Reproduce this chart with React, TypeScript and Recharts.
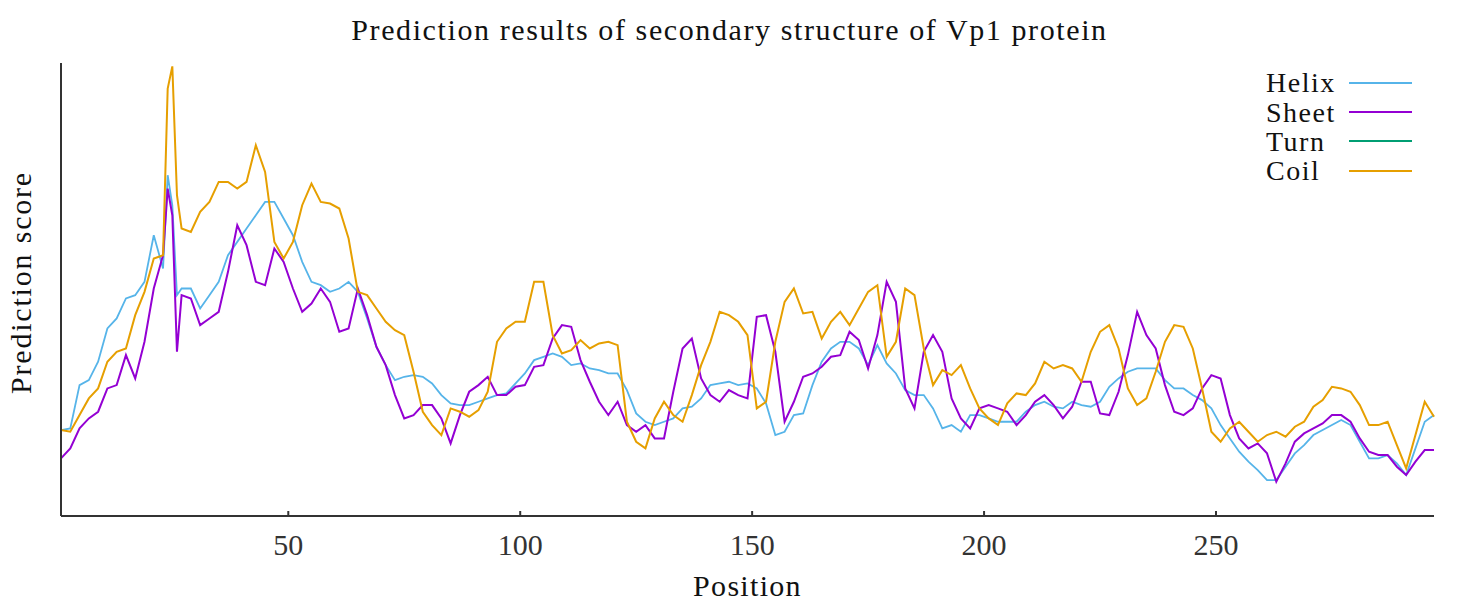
import React from "react";
import { LineChart, Line, XAxis, YAxis, Legend, Label } from "recharts";

// residue positions (denser around the spike near 24-26)
const positions = [
  1, 3, 5, 7, 9, 11, 13, 15, 17, 19, 21, 23, 24, 25, 26, 27, 29, 31, 33, 35, 37, 39, 41, 43, 45, 47, 49,
  51, 53, 55, 57, 59, 61, 63, 65, 67, 69, 71, 73, 75, 77, 79, 81, 83, 85, 87, 89, 91, 93, 95, 97, 99,
  101, 103, 105, 107, 109, 111, 113, 115, 117, 119, 121, 123, 125, 127, 129, 131, 133, 135, 137, 139, 141, 143, 145, 147, 149,
  151, 153, 155, 157, 159, 161, 163, 165, 167, 169, 171, 173, 175, 177, 179, 181, 183, 185, 187, 189, 191, 193, 195, 197, 199,
  201, 203, 205, 207, 209, 211, 213, 215, 217, 219, 221, 223, 225, 227, 229, 231, 233, 235, 237, 239, 241, 243, 245, 247, 249,
  251, 253, 255, 257, 259, 261, 263, 265, 267, 269, 271, 273, 275, 277, 279, 281, 283, 285, 287, 289, 291, 293, 295, 297,
];

const helix = [
  0.258, 0.263, 0.393, 0.408, 0.463, 0.563, 0.593, 0.653, 0.663, 0.703, 0.843, 0.743, 1.023, 0.933, 0.663, 0.683, 0.683, 0.623, 0.663, 0.703, 0.783, 0.823, 0.863, 0.903, 0.943, 0.943, 0.893,
  0.843, 0.763, 0.703, 0.693, 0.673, 0.683, 0.703, 0.673, 0.593, 0.508, 0.453, 0.408, 0.418, 0.423, 0.418, 0.398, 0.363, 0.338, 0.333, 0.333, 0.343, 0.353, 0.363, 0.368, 0.398,
  0.428, 0.468, 0.478, 0.488, 0.478, 0.453, 0.458, 0.443, 0.438, 0.428, 0.428, 0.378, 0.308, 0.283, 0.273, 0.283, 0.293, 0.323, 0.328, 0.353, 0.393, 0.398, 0.403, 0.393, 0.398,
  0.383, 0.338, 0.243, 0.253, 0.303, 0.308, 0.393, 0.463, 0.503, 0.523, 0.523, 0.503, 0.453, 0.513, 0.458, 0.428, 0.378, 0.363, 0.363, 0.323, 0.263, 0.273, 0.253, 0.303, 0.303,
  0.293, 0.283, 0.283, 0.283, 0.313, 0.333, 0.343, 0.328, 0.323, 0.343, 0.333, 0.328, 0.343, 0.388, 0.413, 0.433, 0.443, 0.443, 0.443, 0.408, 0.383, 0.383, 0.363, 0.348, 0.323,
  0.273, 0.233, 0.193, 0.163, 0.138, 0.108, 0.108, 0.148, 0.188, 0.213, 0.243, 0.258, 0.273, 0.288, 0.273, 0.223, 0.173, 0.173, 0.183, 0.158, 0.123, 0.203, 0.283, 0.303,
];

const sheet = [
  0.173, 0.203, 0.263, 0.293, 0.313, 0.383, 0.393, 0.483, 0.413, 0.523, 0.683, 0.783, 0.983, 0.903, 0.493, 0.663, 0.653, 0.573, 0.593, 0.613, 0.733, 0.873, 0.813, 0.703, 0.693, 0.803, 0.763,
  0.683, 0.613, 0.638, 0.683, 0.643, 0.553, 0.563, 0.683, 0.603, 0.508, 0.453, 0.363, 0.293, 0.303, 0.333, 0.333, 0.293, 0.218, 0.303, 0.373, 0.393, 0.418, 0.363, 0.363, 0.388,
  0.393, 0.448, 0.453, 0.533, 0.573, 0.568, 0.468, 0.403, 0.343, 0.303, 0.343, 0.273, 0.253, 0.273, 0.233, 0.233, 0.373, 0.503, 0.533, 0.413, 0.363, 0.343, 0.378, 0.363, 0.353,
  0.598, 0.603, 0.493, 0.283, 0.343, 0.418, 0.428, 0.448, 0.478, 0.483, 0.553, 0.528, 0.443, 0.543, 0.703, 0.643, 0.383, 0.323, 0.493, 0.543, 0.493, 0.353, 0.293, 0.263, 0.323,
  0.333, 0.323, 0.313, 0.273, 0.303, 0.343, 0.363, 0.333, 0.293, 0.328, 0.403, 0.403, 0.308, 0.303, 0.373, 0.483, 0.613, 0.543, 0.503, 0.393, 0.313, 0.303, 0.323, 0.383, 0.423,
  0.413, 0.303, 0.233, 0.203, 0.218, 0.188, 0.103, 0.158, 0.223, 0.248, 0.263, 0.278, 0.303, 0.303, 0.283, 0.233, 0.193, 0.183, 0.183, 0.148, 0.123, 0.163, 0.198, 0.198,
];

// turn is listed in the legend but not visible in the plot
const turn: (number | null)[] = positions.map(() => null);

const coil = [
  0.258, 0.253, 0.303, 0.353, 0.383, 0.463, 0.493, 0.503, 0.603, 0.673, 0.773, 0.783, 1.283, 1.35, 0.963, 0.863, 0.853, 0.913, 0.943, 1.003, 1.003, 0.983, 1.003, 1.113, 1.033, 0.823, 0.773,
  0.823, 0.933, 0.998, 0.943, 0.938, 0.923, 0.833, 0.673, 0.663, 0.623, 0.583, 0.558, 0.543, 0.433, 0.313, 0.273, 0.243, 0.323, 0.313, 0.298, 0.318, 0.373, 0.523, 0.563, 0.583,
  0.583, 0.703, 0.703, 0.543, 0.488, 0.498, 0.528, 0.503, 0.518, 0.523, 0.513, 0.283, 0.223, 0.203, 0.293, 0.343, 0.303, 0.283, 0.363, 0.453, 0.523, 0.613, 0.603, 0.583, 0.543,
  0.323, 0.343, 0.523, 0.643, 0.683, 0.608, 0.613, 0.533, 0.583, 0.613, 0.573, 0.623, 0.673, 0.693, 0.478, 0.523, 0.683, 0.663, 0.503, 0.393, 0.438, 0.423, 0.453, 0.383, 0.323,
  0.293, 0.273, 0.338, 0.368, 0.363, 0.398, 0.463, 0.443, 0.453, 0.443, 0.403, 0.493, 0.553, 0.573, 0.503, 0.383, 0.333, 0.353, 0.433, 0.523, 0.573, 0.568, 0.503, 0.383, 0.253,
  0.223, 0.263, 0.283, 0.253, 0.223, 0.243, 0.253, 0.238, 0.268, 0.283, 0.328, 0.348, 0.388, 0.383, 0.373, 0.333, 0.273, 0.273, 0.283, 0.213, 0.143, 0.243, 0.343, 0.298,
];

const xTicks = [50, 100, 150, 200, 250];

const SERIES = [
  { key: "helix", name: "Helix", color: "#56B4E9", width: 1.8 },
  { key: "sheet", name: "Sheet", color: "#9400D3", width: 2 },
  { key: "turn", name: "Turn", color: "#009E73", width: 2 },
  { key: "coil", name: "Coil", color: "#E69F00", width: 2 },
];

const data = positions.map((p, i) => ({
  pos: p,
  helix: helix[i],
  sheet: sheet[i],
  turn: turn[i],
  coil: coil[i],
}));

const FONT = '"Liberation Serif", "Times New Roman", serif';

function PosTick({ x, y, payload }: any) {
  return (
    <g>
      <line x1={x} x2={x} y1={y} y2={y - 5} stroke="#333" strokeWidth={2} />
      <text x={x} y={y + 39} textAnchor="middle" fontSize={30} fontFamily={FONT} fill="#333">
        {payload.value}
      </text>
    </g>
  );
}

function LegendBox() {
  return (
    <div style={{ fontFamily: FONT, fontSize: 28, color: "#111" }}>
      {SERIES.map((s) => (
        <div key={s.key} style={{ display: "flex", alignItems: "center", height: 29.4 }}>
          <span style={{ width: 83, lineHeight: "29px", letterSpacing: 1.5 }}>{s.name}</span>
          <span style={{ width: 63, height: 2, background: s.color }} />
        </div>
      ))}
    </div>
  );
}

export default function App() {
  return (
    <div
      style={{
        position: "absolute",
        left: 0,
        top: 0,
        width: 1459,
        height: 616,
        background: "#fff",
        fontFamily: FONT,
      }}
    >
      <div
        style={{
          position: "absolute",
          top: 15,
          left: 0,
          width: 1459,
          textAlign: "center",
          fontSize: 30,
          lineHeight: "30px",
          letterSpacing: 1.6,
          color: "#111",
        }}
      >
        Prediction results of secondary structure of Vp1 protein
      </div>
      <LineChart width={1459} height={616} data={data} margin={{ top: 63, right: 25, bottom: 99, left: 60 }}>
        <XAxis
          dataKey="pos"
          type="number"
          domain={[1, 297]}
          ticks={xTicks}
          height={1}
          tickSize={0}
          tickMargin={0}
          tickLine={false}
          tick={<PosTick />}
          axisLine={{ stroke: "#333", strokeWidth: 2 }}
        >
          <Label
            content={({ viewBox }: any) => (
              <text
                x={viewBox.x + viewBox.width / 2}
                y={viewBox.y + 80}
                textAnchor="middle"
                fontSize={30}
                fontFamily={FONT}
                letterSpacing={1.3}
                fill="#111"
              >
                Position
              </text>
            )}
          />
        </XAxis>
        <YAxis
          type="number"
          domain={[0, 1.36]}
          width={1}
          tick={false}
          tickLine={false}
          axisLine={{ stroke: "#333", strokeWidth: 2 }}
        >
          <Label
            content={({ viewBox }: any) => {
              const cx = viewBox.x + viewBox.width - 41;
              const cy = viewBox.y + viewBox.height / 2 - 7;
              return (
                <text
                  x={cx}
                  y={cy}
                  transform={`rotate(-90 ${cx} ${cy})`}
                  textAnchor="middle"
                  dominantBaseline="central"
                  fontSize={30}
                  fontFamily={FONT}
                  letterSpacing={1.8}
                  fill="#111"
                >
                  Prediction score
                </text>
              );
            }}
          />
        </YAxis>
        <Legend
          layout="vertical"
          align="center"
          verticalAlign="middle"
          content={() => <LegendBox />}
          wrapperStyle={{ top: 68, left: 1266, width: 160 }}
        />
        {SERIES.map((s) => (
          <Line
            key={s.key}
            type="linear"
            dataKey={s.key}
            name={s.name}
            stroke={s.color}
            strokeWidth={s.width}
            dot={false}
            isAnimationActive={false}
          />
        ))}
      </LineChart>
    </div>
  );
}
